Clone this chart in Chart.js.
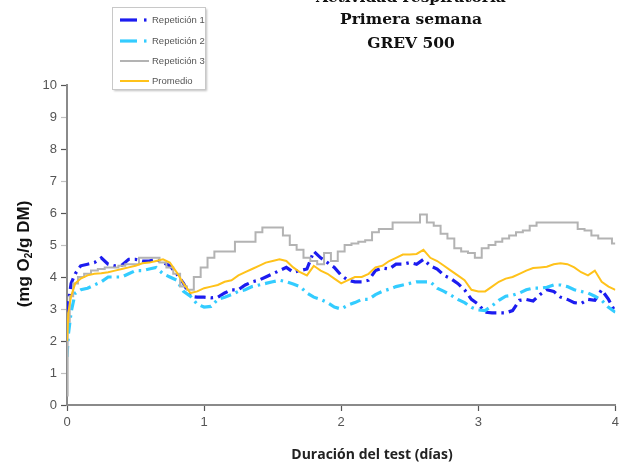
<!DOCTYPE html>
<html>
<head>
<meta charset="utf-8">
<script src="https://cdn.jsdelivr.net/npm/chart.js@4.4.1/dist/chart.umd.min.js"></script>
<style>
  html, body { margin: 0; padding: 0; background: #ffffff; }
  #wrap { width: 623px; height: 467px; position: relative; }
</style>
</head>
<body>
<div id="wrap"><canvas id="c" width="623" height="467"></canvas></div>
<script>
// Test duration in days
const days = [0, 0.01, 0.03, 0.06, 0.1,
  0.15, 0.2, 0.25, 0.3, 0.35, 0.4, 0.45, 0.5, 0.55, 0.6, 0.65, 0.7, 0.75, 0.8, 0.85, 0.9, 0.95,
  1.0, 1.05, 1.1, 1.15, 1.2, 1.25, 1.3, 1.35, 1.4, 1.45, 1.5, 1.55, 1.6, 1.65, 1.7, 1.75, 1.8, 1.85, 1.9, 1.95,
  2.0, 2.05, 2.1, 2.15, 2.2, 2.25, 2.3, 2.35, 2.4, 2.45, 2.5, 2.55, 2.6, 2.65, 2.7, 2.75, 2.8, 2.85, 2.9, 2.95,
  3.0, 3.05, 3.1, 3.15, 3.2, 3.25, 3.3, 3.35, 3.4, 3.45, 3.5, 3.55, 3.6, 3.65, 3.7, 3.75, 3.8, 3.85, 3.9, 3.95, 4.0];

// Respiration (mg O2 / g DM)
const rep1 = [2.9, 3.2, 3.8, 4.1, 4.35,
  4.4, 4.45, 4.6, 4.4, 4.35, 4.37, 4.55, 4.55, 4.5, 4.5, 4.55, 4.45, 4.35, 4.1, 3.8, 3.4, 3.37,
  3.37, 3.35, 3.37, 3.5, 3.6, 3.6, 3.75, 3.85, 3.9, 4.0, 4.1, 4.2, 4.3, 4.15, 4.2, 4.25, 4.8, 4.6, 4.45, 4.3,
  4.05, 3.9, 3.85, 3.85, 3.9, 4.2, 4.28, 4.25, 4.4, 4.4, 4.45, 4.4, 4.55, 4.35, 4.25, 4.05, 3.95, 3.8, 3.6, 3.3,
  3.15, 2.9, 2.88, 2.88, 2.88, 2.95, 3.27, 3.3, 3.25, 3.45, 3.6, 3.55, 3.37, 3.3, 3.2, 3.17, 3.3, 3.27, 3.6, 3.3, 2.9];

const rep2 = [1.5, 2.2, 2.9, 3.5, 3.6,
  3.65, 3.75, 3.85, 4.0, 4.0, 4.0, 4.1, 4.2, 4.2, 4.25, 4.3, 4.1, 4.0, 3.9, 3.55, 3.4, 3.15,
  3.06, 3.08, 3.3, 3.37, 3.45, 3.55, 3.6, 3.7, 3.75, 3.8, 3.85, 3.9, 3.85, 3.78, 3.7, 3.5, 3.37, 3.3, 3.2, 3.06,
  3.0, 3.12, 3.2, 3.3, 3.3, 3.45, 3.55, 3.62, 3.7, 3.75, 3.8, 3.85, 3.85, 3.85, 3.65, 3.55, 3.43, 3.3, 3.2, 3.05,
  2.97, 2.95, 3.1, 3.27, 3.4, 3.43, 3.5, 3.6, 3.65, 3.65, 3.68, 3.75, 3.75, 3.7, 3.6, 3.55, 3.5, 3.4, 3.27, 3.05, 2.9];

const rep3 = [0.3, 2.6, 3.4, 3.8, 4.0,
  4.1, 4.2, 4.25, 4.3, 4.3, 4.35, 4.4, 4.4, 4.6, 4.6, 4.6, 4.45, 4.3, 4.1, 3.7, 3.6, 4.0,
  4.3, 4.6, 4.8, 4.8, 4.8, 5.1, 5.1, 5.1, 5.4, 5.55, 5.55, 5.55, 5.3, 5.0, 4.85, 4.6, 4.5, 4.4, 4.75, 4.5,
  4.8, 5.0, 5.05, 5.1, 5.15, 5.4, 5.5, 5.5, 5.7, 5.7, 5.7, 5.7, 5.95, 5.7, 5.6, 5.35, 5.2, 4.9, 4.8, 4.75,
  4.6, 4.9, 5.0, 5.1, 5.2, 5.3, 5.4, 5.45, 5.6, 5.7, 5.7, 5.7, 5.7, 5.7, 5.7, 5.5, 5.45, 5.3, 5.2, 5.2, 5.05];

const promedio = [2.0, 2.9, 3.4, 3.8, 3.95,
  4.05, 4.1, 4.12, 4.15, 4.2, 4.25, 4.3, 4.35, 4.43, 4.45, 4.5, 4.55, 4.45, 4.15, 3.8, 3.5, 3.55,
  3.65, 3.7, 3.75, 3.85, 3.9, 4.05, 4.15, 4.25, 4.35, 4.45, 4.5, 4.55, 4.5, 4.3, 4.15, 4.05, 4.35, 4.2, 4.1, 3.95,
  3.8, 3.9, 4.0, 4.0, 4.1, 4.3, 4.35, 4.5, 4.6, 4.7, 4.7, 4.72, 4.85, 4.6, 4.5, 4.35, 4.2, 4.05, 3.9, 3.6,
  3.55, 3.55, 3.7, 3.85, 3.95, 4.0, 4.1, 4.2, 4.28, 4.3, 4.32, 4.4, 4.43, 4.4, 4.3, 4.15, 4.05, 4.2, 3.85, 3.7, 3.6];

const seriesNames = ['Repetición 1', 'Repetición 2', 'Repetición 3', 'Promedio'];
const titleLines = ['Actividad respiratoria', 'Primera semana', 'GREV 500'];
const xTicks = [0, 1, 2, 3, 4];
const yTicks = [0, 1, 2, 3, 4, 5, 6, 7, 8, 9, 10];

const pts = arr => arr.map((v, i) => ({ x: days[i], y: v }));

const styles = [
  { color: '#1c1cf0', width: 3.2, dash: [11, 5, 2.5, 5], stepped: false },
  { color: '#33ccff', width: 3.2, dash: [11, 5, 2.5, 5], stepped: false },
  { color: '#b3b3b3', width: 2, dash: [], stepped: 'middle' },
  { color: '#ffc21a', width: 2, dash: [], stepped: false }
];

const values = [rep1, rep2, rep3, promedio];
const datasets = values.map((arr, i) => ({
  label: seriesNames[i],
  data: pts(arr),
  borderColor: styles[i].color,
  borderWidth: styles[i].width,
  borderDash: styles[i].dash,
  stepped: styles[i].stepped,
  pointRadius: 0,
  tension: 0,
  fill: false,
  order: 3 - i
}));

// Title, legend box and axis titles
const annotations = {
  id: 'annotations',
  afterDraw(chart) {
    const ctx = chart.ctx;
    ctx.save();

    // Title
    ctx.fillStyle = '#111';
    ctx.textAlign = 'center';
    ctx.textBaseline = 'middle';
    ctx.font = 'bold 15.5px "DejaVu Serif"';
    ctx.fillText(titleLines[0], 411, -2);
    ctx.fillText(titleLines[1], 411, 20);
    ctx.fillText(titleLines[2], 411, 44);

    // Legend
    ctx.fillStyle = '#fff';
    ctx.shadowColor = 'rgba(0,0,0,0.25)';
    ctx.shadowBlur = 2;
    ctx.shadowOffsetX = 1;
    ctx.shadowOffsetY = 1;
    ctx.fillRect(112.5, 7.5, 93, 82);
    ctx.shadowColor = 'transparent';
    ctx.strokeStyle = '#c8c8c8';
    ctx.lineWidth = 1;
    ctx.strokeRect(112.5, 7.5, 93, 82);
    const rows = [20, 41, 61, 81];
    ctx.font = '9.5px "Liberation Sans"';
    ctx.textAlign = 'left';
    ctx.textBaseline = 'middle';
    chart.data.datasets.forEach((ds, i) => {
      const y = rows[i];
      ctx.strokeStyle = ds.borderColor;
      ctx.lineWidth = ds.borderWidth;
      if (ds.borderDash.length) {
        ctx.beginPath();
        ctx.moveTo(120, y); ctx.lineTo(137, y); ctx.stroke();
        ctx.beginPath();
        ctx.moveTo(144, y); ctx.lineTo(146.5, y); ctx.stroke();
      } else {
        ctx.beginPath();
        ctx.moveTo(120, y); ctx.lineTo(149, y); ctx.stroke();
      }
      ctx.fillStyle = '#555';
      ctx.fillText(ds.label, 152, y + 0.5);
    });

    // X axis title
    ctx.fillStyle = '#222';
    ctx.textAlign = 'center';
    ctx.font = 'bold 14px "Open Sans"';
    ctx.fillText('Duración del test (días)', 372, 455);

    // Y axis title with subscript
    ctx.fillStyle = '#111';
    ctx.translate(24, 254);
    ctx.rotate(-Math.PI / 2);
    const big = 'bold 17px "Liberation Sans"';
    const small = 'bold 10px "Liberation Sans"';
    const parts = [['(mg O', big, 0], ['2', small, 5], ['/g DM)', big, 0]];
    let total = 0;
    parts.forEach(p => { ctx.font = p[1]; total += ctx.measureText(p[0]).width; });
    let x = -total / 2;
    ctx.textAlign = 'left';
    parts.forEach(p => {
      ctx.font = p[1];
      ctx.fillText(p[0], x, p[2]);
      x += ctx.measureText(p[0]).width;
    });
    ctx.restore();
  }
};

new Chart(document.getElementById('c'), {
  type: 'line',
  data: { datasets },
  plugins: [annotations],
  options: {
    responsive: false,
    animation: false,
    devicePixelRatio: 1,
    layout: { padding: { left: 0, top: 85, right: 7, bottom: 0 } },
    plugins: { legend: { display: false }, tooltip: { enabled: false }, title: { display: false } },
    scales: {
      x: {
        type: 'linear',
        min: 0, max: 4,
        afterFit(s) { s.height = 62; },
        afterBuildTicks(s) { s.ticks = xTicks.map(v => ({ value: v })); },
        border: { color: '#8a8a8a', width: 2 },
        grid: { drawOnChartArea: false, drawTicks: true, tickLength: 6, color: '#555', tickWidth: 1.2 },
        ticks: { color: '#555', font: { family: 'Liberation Sans', size: 13 }, padding: 4 }
      },
      y: {
        type: 'linear',
        min: 0, max: 10,
        afterFit(s) { s.width = 67; },
        afterBuildTicks(s) { s.ticks = yTicks.map(v => ({ value: v })); },
        border: { color: '#8a8a8a', width: 2 },
        grid: { drawOnChartArea: false, drawTicks: true, tickLength: 6,
                color: ctx => (ctx.tick && ctx.tick.value % 2 === 1) ? '#c0c0c0' : '#555', tickWidth: 1.2 },
        ticks: { color: '#555', font: { family: 'Liberation Sans', size: 13 }, padding: 4 }
      }
    }
  }
});
</script>
</body>
</html>
